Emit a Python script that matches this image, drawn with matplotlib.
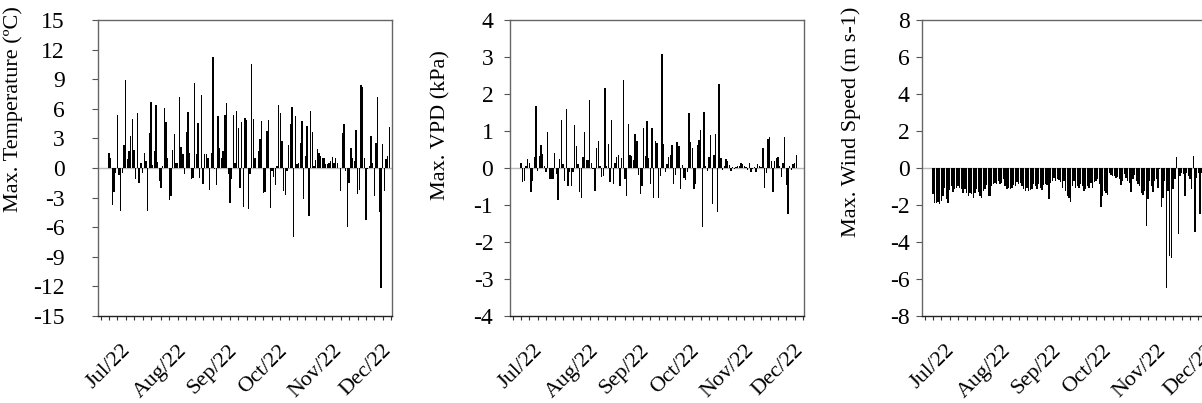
import numpy as np
import pandas as pd
import matplotlib
matplotlib.use("Agg")
import matplotlib.pyplot as plt
import matplotlib.dates as mdates

plt.rcParams['font.family'] = ['Liberation Serif', 'DejaVu Serif']
plt.rcParams['axes.unicode_minus'] = False

START = "2022-07-01"

# daily differences of maximum air temperature (oC)
max_temp = [1.5, 1.0, -3.7, -2.4, -0.5, 5.4, -0.7, -4.4, -0.5, 2.3, 8.9, 0.9, 1.7, 3.2, 5.0,
            1.8, -1.1, 5.6, -1.5, 0.5, -0.5, 1.5, 0.7, -4.4, 3.5, 6.7, 0.3, 1.7, 6.4, 0.6,
            -1.3, -2.0, 0.2, 6.1, 4.7, 1.0, -3.2, -2.8, 1.8, 3.4, 0.5, 0.5, 7.2, 2.1, 1.4,
            -0.6, 3.6, 5.7, 1.5, -1.1, -1.0, 8.6, 1.4, 4.6, -1.0, 7.4, -1.6, 1.4, 1.4, 1.0,
            -2.2, 1.5, 11.3, -0.1, -1.7, 5.3, 2.0, 1.0, 1.7, 5.4, 6.6, -0.6, -3.5, -1.1, 5.4,
            0.5, 5.8, 4.1, -2.0, 4.7, -4.0, 5.1, 4.9, -4.2, -0.6, 10.5, 5.0, 1.0, 0.0, 1.7,
            2.9, 4.8, -2.5, -2.4, 3.8, 4.9, -4.1, -0.3, -0.9, -1.7, 0.2, 6.4, 5.6, 2.7, -2.3,
            -2.7, -0.3, 2.3, 4.5, 6.2, -7.0, 5.3, 0.4, 0.5, 2.5, 4.8, -3.1, 1.2, 4.3, -4.9,
            5.8, 3.6, 0.2, 0.8, 1.9, 1.5, 1.2, 1.0, 1.0, 0.4, 0.4, 0.5, 0.7, 1.1, 0.5,
            1.0, 0.5, 0.0, -2.3, 3.5, 4.5, -0.3, -6.0, -1.5, 2.0, 1.0, 0.7, 3.9, -2.6, -2.2,
            8.4, 8.2, 1.0, -5.3, -0.1, 0.2, 3.2, 0.5, -2.8, 2.5, 7.2, -4.5, -12.2, 2.4, -2.3,
            0.9, 1.2, 4.2]

# daily differences of maximum VPD (kPa)
max_vpd = [0.13, -0.38, -0.36, 0.05, 0.23, 0.14, -0.65, -0.36, 0.30, 1.67, -0.09, 0.32, 0.62,
           0.37, 0.05, -0.12, 0.98, -0.30, -0.30, -0.30, 0.40, -0.17, -0.87, 0.23, 1.29, 0.10,
           -0.35, 1.60, -0.50, -0.12, -0.50, -0.10, 1.15, 0.60, 0.10, -0.66, -0.82, 0.30, 0.97,
           0.22, 0.21, 1.85, 0.14, -0.03, -0.62, 0.53, 0.73, 0.05, -0.24, -0.22, 2.16, 0.05,
           0.65, -0.38, 1.29, -0.44, 0.14, 0.30, 0.34, -0.48, 0.28, 2.39, -0.30, -0.77, 1.19,
           0.34, 0.32, 0.22, 0.92, 0.74, -0.20, -0.71, -0.50, 1.09, 0.32, 1.28, 0.28, -0.42,
           1.09, -0.82, 0.73, 0.68, -0.82, -0.22, 3.09, 0.64, -0.10, 0.10, 0.30, 0.34, 0.62,
           -0.42, -0.20, 0.71, 0.60, -0.56, 0.07, -0.26, -0.32, -0.12, 1.49, 0.71, 0.53, -0.56,
           -0.44, 0.62, 0.77, 1.04, -1.59, 1.52, 0.05, -0.08, 0.30, 0.89, -0.98, 0.34, 0.91,
           -1.20, 2.27, 0.28, -0.05, 0.05, 0.25, 0.19, 0.09, -0.09, 0.04, -0.04, 0.04, 0.05,
           0.05, 0.14, 0.10, 0.05, 0.04, -0.05, 0.14, -0.11, -0.04, 0.03, -0.12, 0.12, 0.05,
           0.04, 0.55, -0.53, -0.14, 0.79, 0.84, 0.19, -0.65, 0.19, 0.28, 0.30, 0.05, -0.23,
           0.14, 0.84, -0.47, -1.25, 0.05, -0.05, 0.10, 0.14, 0.35]

# daily differences of maximum wind speed (m s-1)
max_wind = [-1.42, -1.87, -1.90, -1.83, -1.96, -1.78, -1.51, -1.06, -1.69, -1.87, -1.18, -0.97,
            -1.29, -1.15, -1.06, -0.97, -1.06, -1.15, -1.33, -1.11, -1.33, -1.51, -1.36, -1.42,
            -1.60, -1.33, -1.15, -1.29, -1.51, -1.60, -1.24, -1.11, -0.93, -1.51, -1.51, -0.97,
            -0.88, -0.79, -0.88, -0.70, -0.88, -0.79, -0.61, -0.97, -1.15, -1.06, -1.11, -1.06,
            -0.93, -1.00, -0.75, -0.88, -0.79, -0.97, -1.15, -1.24, -1.06, -1.24, -1.18, -1.11,
            -0.88, -0.97, -1.15, -0.88, -1.06, -1.18, -0.93, -0.88, -0.93, -1.69, -0.79, -0.70,
            -0.52, -0.70, -0.61, -0.65, -0.75, -1.06, -0.70, -1.24, -1.51, -1.60, -1.83, -0.97,
            -0.70, -1.06, -0.97, -1.06, -0.88, -1.00, -1.24, -1.15, -0.97, -1.06, -0.79, -1.06,
            -0.75, -0.70, -0.61, -0.88, -2.13, -1.51, -1.24, -1.33, -1.47, -0.25, -0.39, -0.43,
            -0.43, -0.52, -0.47, -0.61, -0.93, -0.70, -0.34, -0.52, -0.70, -0.83, -1.29, -0.57,
            -0.39, -0.70, -0.88, -0.97, -1.33, -1.47, -1.24, -3.12, -1.65, -0.70, -0.97, -1.29,
            -0.70, -0.61, -1.06, -0.07, -2.13, -1.60, -0.70, -6.50, -1.24, -4.74, -4.88, -1.15,
            -0.61, 0.57, -3.57, -0.43, -0.29, -0.34, -1.51, -0.25, -0.43, -0.61, -1.11, 0.65,
            -3.48, -0.52, -0.25, -2.49, -0.25]

panels = [
    (max_temp, "Max. Temperature (\u00baC)", (-15, 15), 3),
    (max_vpd, "Max. VPD (kPa)", (-4, 4), 1),
    (max_wind, "Max. Wind Speed (m s-1)", (-8, 8), 2),
]

lefts = [98, 510, 922]
ytick_pad = [20, 8, 5]
label_x = [-0.255, -0.204, -0.207]
label_y = [0.70, 0.645, 0.655]

W, H = 1202, 403
fig = plt.figure(figsize=(W / 100, H / 100), dpi=100)

start = pd.Timestamp(START)
x0 = mdates.date2num(start)

for i, (vals, ylab, ylim, step) in enumerate(panels):
    ax = fig.add_axes([lefts[i] / W, (H - 316) / H, 294 / W, 296 / H])
    dates = pd.date_range(START, periods=len(vals), freq="D")
    ax.bar(dates, vals, width=0.8, color="black", linewidth=0)
    ax.axhline(0, color="#b8b8b8", linewidth=1.0, zorder=0)

    ax.set_xlim(x0 - 6.5, x0 + 168.5)
    ax.set_ylim(*ylim)
    ax.set_yticks(np.arange(ylim[0], ylim[1] + step, step))

    ax.xaxis.set_major_locator(mdates.MonthLocator())
    ax.xaxis.set_major_formatter(mdates.DateFormatter("%b/%y"))
    ax.xaxis.set_minor_locator(mdates.DayLocator(bymonthday=[6, 11, 16, 21, 26]))
    ax.tick_params(axis="x", which="both", direction="out", length=3, width=0.8,
                   color="#333333", pad=15, labelsize=16)
    for lbl in ax.get_xticklabels():
        lbl.set_rotation(45)
        lbl.set_ha("center")
    ax.tick_params(axis="y", direction="out", length=4, width=0.8, color="#555555",
                   pad=ytick_pad[i], labelsize=17)

    for side in ["left", "top", "right"]:
        ax.spines[side].set_color("#666666")
    ax.spines["bottom"].set_color("#222222")
    for sp in ax.spines.values():
        sp.set_linewidth(1.0)

    ax.set_ylabel(ylab, fontsize=16)
    ax.yaxis.set_label_coords(label_x[i], label_y[i])

fig.savefig("out.png", dpi=100)
